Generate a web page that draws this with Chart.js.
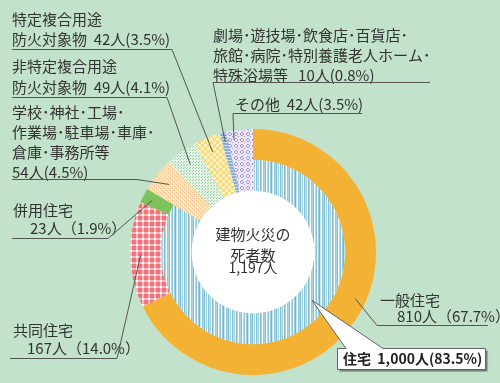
<!DOCTYPE html>
<html lang="ja">
<head>
<meta charset="utf-8">
<script src="https://cdn.jsdelivr.net/npm/chart.js@4"></script>
<style>
  body { margin: 0; background: #c3e2cb; }
  canvas { display: block; }
</style>
</head>
<body>
<canvas id="chart1" width="500" height="383"></canvas>
<script>
// データ（建物火災の死者数）
const categories = ["一般住宅", "共同住宅", "併用住宅", "学校・神社・工場等", "非特定複合用途防火対象物", "特定複合用途防火対象物", "劇場・遊技場等", "その他"];
const outerValues = [810, 167, 23, 54, 49, 42, 10, 42];
const innerValues = [1000, 0, 0, 54, 49, 42, 10, 42];   // 住宅 = 一般 + 共同 + 併用
const totalDeaths = 1197;

const FONT = '"Noto Sans CJK JP", "Noto Sans", sans-serif';

// 柄（パターン）を作る
function makePattern(w, h, draw) {
    const c = document.createElement('canvas');
    c.width = w; c.height = h;
    const g = c.getContext('2d');
    draw(g);
    return g.createPattern(c, 'repeat');
}

const blueStripe = makePattern(24, 4, g => {
    const cols = ['#a9d5e2', '#7fbfd1', '#ffffff', '#b9dde8', '#8cc6d6', '#e6f4f8', '#a2d1df', '#6fb5ca',
                  '#c8e5ed', '#ffffff', '#93cad9', '#b0d8e4', '#7cbcd0', '#d8eef3', '#9fd0de', '#ffffff',
                  '#86c2d3', '#bfe1ea', '#a6d3e0', '#eef8fa', '#78b9cd', '#b4dae5', '#ffffff', '#98ccda'];
    cols.forEach((col, i) => { g.fillStyle = col; g.fillRect(i, 0, 1, 4); });
});
const redCheck = makePattern(6, 6, g => {
    g.fillStyle = '#f2727b'; g.fillRect(0, 0, 6, 6);
    g.fillStyle = '#f8b9bd'; g.fillRect(4, 0, 2, 6); g.fillRect(0, 4, 6, 2);
    g.fillStyle = '#ffffff'; g.fillRect(4, 4, 2, 2);
});
const peachHatch = makePattern(4, 4, g => {
    g.fillStyle = '#f8dfb6'; g.fillRect(0, 0, 4, 4);
    g.fillStyle = '#efc48f'; g.fillRect(0, 0, 1, 1); g.fillRect(2, 2, 1, 1);
    g.fillStyle = '#fbecd4'; g.fillRect(1, 3, 1, 1); g.fillRect(3, 1, 1, 1);
});
const greenDots = makePattern(3, 3, g => {
    g.fillStyle = '#e4f3e6'; g.fillRect(0, 0, 3, 3);
    g.fillStyle = '#95d0a3'; g.fillRect(0, 0, 1, 1); g.fillRect(1, 2, 1, 1);
});
const yellowCheck = makePattern(6, 6, g => {
    g.fillStyle = '#f8da78'; g.fillRect(0, 0, 6, 6);
    g.fillStyle = '#fcefc0'; g.fillRect(0, 0, 3, 3); g.fillRect(3, 3, 3, 3);
});
const blueSmall = makePattern(4, 3, g => {
    g.fillStyle = '#86acdc'; g.fillRect(0, 0, 4, 3);
    g.fillStyle = '#c8d9f0'; g.fillRect(0, 1, 4, 1);
});
const purpleDots = makePattern(6, 6, g => {
    g.fillStyle = '#ede8f7'; g.fillRect(0, 0, 6, 6);
    g.fillStyle = '#a898d6';
    g.fillRect(1, 0, 2, 1); g.fillRect(0, 1, 1, 2); g.fillRect(3, 1, 1, 2); g.fillRect(1, 3, 2, 1);
    g.fillRect(4, 4, 1, 1);
});

const outerColors = ['#f4b234', redCheck, '#7cc35b', peachHatch, greenDots, yellowCheck, blueSmall, purpleDots];
const innerColors = [blueStripe, redCheck, '#7cc35b', peachHatch, greenDots, yellowCheck, blueSmall, purpleDots];

// 弧の中の点（角度の割合・半径の割合）
function arcPoint(chart, ds, idx, tA, tR) {
    const a = chart.getDatasetMeta(ds).data[idx];
    const ang = a.startAngle + (a.endAngle - a.startAngle) * tA;
    const r = a.innerRadius + (a.outerRadius - a.innerRadius) * tR;
    return [a.x + r * Math.cos(ang), a.y + r * Math.sin(ang)];
}

// ラベル: 文字、下線、引き出し線
const labels = [
    { lines: [[12, 19, "特定複合用途"], [12, 39, "防火対象物  42人(3.5%)"]], ul: [12, 172, 49], fromX: 172, ds: 0, idx: 5, tA: 0.5, tR: 0.5 },
    { lines: [[12, 66, "非特定複合用途"], [12, 87, "防火対象物  49人(4.1%)"]], ul: [12, 167, 97], fromX: 167, ds: 0, idx: 4, tA: 0.5, tR: 0.5 },
    { lines: [[12, 112, "学校･神社･工場･"], [12, 132, "作業場･駐車場･車庫･"], [12, 152, "倉庫･事務所等"], [12, 172, "54人(4.5%)"]], ul: [12, 137, 179], fromX: 137, ds: 0, idx: 3, tA: 0.5, tR: 0.5 },
    { lines: [[13, 210, "併用住宅"], [30, 228, "23人（1.9%）"]], ul: [12, 108, 238], fromX: 108, ds: 0, idx: 2, tA: 0.5, tR: 0.68 },
    { lines: [[13, 330, "共同住宅"], [27, 348, "167人（14.0%）"]], ul: [10, 117, 358], fromX: 117, ds: 0, idx: 1, tA: 0.5, tR: 0.65 },
    { lines: [[380, 300, "一般住宅"], [397, 316, "810人（67.7%）"]], ul: [377, 488, 325], fromX: 377, ds: 0, idx: 0, tA: 0.47, tR: 0.65 },
    { lines: [[213, 35, "劇場･遊技場･飲食店･百貨店･"], [213, 55, "旅館･病院･特別養護老人ホーム･"], [213, 75, "特殊浴場等   10人(0.8%)"]], ul: [213, 430, 82], fromX: 213, ds: 0, idx: 6, tA: 0.5, tR: 0.7 },
    { lines: [[235, 104, "その他  42人(3.5%)"]], ul: [233, 362, 113], fromX: 233, ds: 0, idx: 7, tA: 0.24, tR: 0.7 }
];

const calloutPlugin = {
    id: 'callout',
    beforeDatasetsDraw(chart) {
        // 中央の白い円
        const ctx = chart.ctx;
        const a = chart.getDatasetMeta(1).data[0];
        ctx.save();
        ctx.fillStyle = '#ffffff';
        ctx.beginPath();
        ctx.arc(a.x, a.y, a.innerRadius, 0, Math.PI * 2);
        ctx.fill();
        ctx.restore();
    },
    afterDraw(chart) {
        const ctx = chart.ctx;
        ctx.save();
        ctx.fillStyle = '#333333';
        ctx.font = '15px ' + FONT;
        ctx.textBaseline = 'middle';
        ctx.strokeStyle = '#555555';
        ctx.lineWidth = 1;
        labels.forEach(l => {
            l.lines.forEach(t => ctx.fillText(t[2], t[0], t[1]));
            const p = arcPoint(chart, l.ds, l.idx, l.tA, l.tR);
            ctx.beginPath();
            ctx.moveTo(l.ul[0], l.ul[2] + 0.5);
            ctx.lineTo(l.ul[1], l.ul[2] + 0.5);
            ctx.moveTo(l.fromX, l.ul[2] + 0.5);
            ctx.lineTo(p[0], p[1]);
            ctx.stroke();
        });

        // 中央の文字
        const c = chart.getDatasetMeta(1).data[0];
        ctx.textAlign = 'center';
        ctx.font = '15px ' + FONT;
        ctx.fillText("建物火災の", c.x, c.y - 18);
        ctx.fillText("死者数", c.x, c.y + 3);
        ctx.font = '14px ' + FONT;
        ctx.fillText(totalDeaths.toLocaleString('en-US') + "人", c.x, c.y + 16);

        // 住宅の吹き出し
        const tip = arcPoint(chart, 1, 0, 0.43, 0.48);
        const housing = innerValues[0];
        ctx.beginPath();
        ctx.moveTo(337.5, 348.5);
        ctx.lineTo(346, 348.5);
        ctx.lineTo(tip[0], tip[1]);
        ctx.lineTo(383, 348.5);
        ctx.lineTo(485.5, 348.5);
        ctx.lineTo(485.5, 369.5);
        ctx.lineTo(337.5, 369.5);
        ctx.closePath();
        ctx.shadowColor = 'rgba(0,0,0,0.45)';
        ctx.shadowOffsetX = 2;
        ctx.shadowOffsetY = 2;
        ctx.shadowBlur = 1;
        ctx.fillStyle = '#ffffff';
        ctx.fill();
        ctx.shadowColor = 'transparent';
        ctx.strokeStyle = '#666666';
        ctx.stroke();
        ctx.textAlign = 'left';
        ctx.fillStyle = '#222222';
        ctx.font = 'bold 14px ' + FONT;
        const pct = (housing / totalDeaths * 100).toFixed(1);
        ctx.fillText("住宅  " + housing.toLocaleString('en-US') + "人(" + pct + "%)", 343, 359);
        ctx.restore();
    }
};

const ctx1 = document.getElementById("chart1").getContext("2d");
const chart1 = new Chart(ctx1, {
    type: "doughnut",
    data: {
        labels: categories,
        datasets: [
            { data: outerValues, backgroundColor: outerColors, borderWidth: 0 },
            { data: innerValues, backgroundColor: innerColors, borderWidth: 0 }
        ]
    },
    options: {
        responsive: false,
        devicePixelRatio: 1,
        animation: false,
        cutout: '50%',
        layout: { padding: { left: 130, right: 124, top: 129, bottom: 8 } },
        plugins: { legend: { display: false }, tooltip: { enabled: false } }
    },
    plugins: [calloutPlugin]
});
</script>
</body>
</html>
